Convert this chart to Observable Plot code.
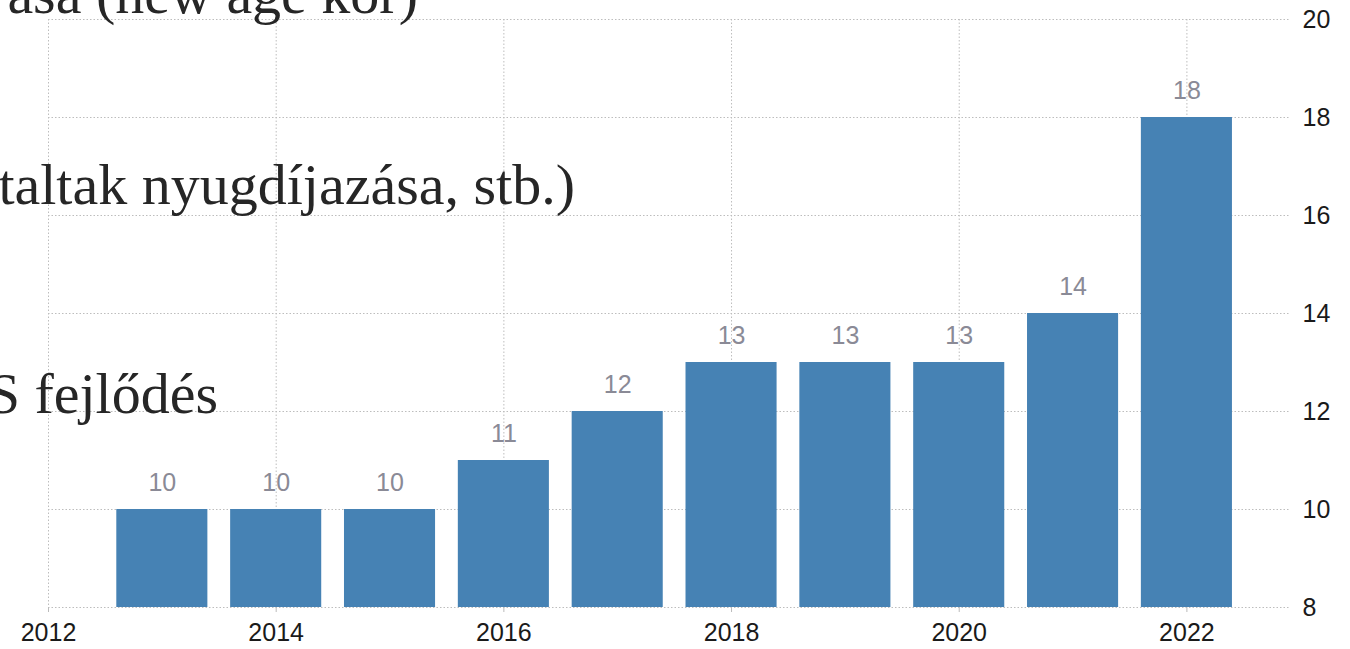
<!DOCTYPE html>
<html><head><meta charset="utf-8">
<script src="https://cdn.jsdelivr.net/npm/d3@7"></script>
<script src="https://cdn.jsdelivr.net/npm/@observablehq/plot@0.6"></script>
<style>body{margin:0;background:#fff;overflow:hidden}</style>
</head><body><div id="chart"></div>
<script>
const years = [2013, 2014, 2015, 2016, 2017, 2018, 2019, 2020, 2021, 2022];
const values = [10, 10, 10, 11, 12, 13, 13, 13, 14, 18];
const xTicks = [2012, 2014, 2016, 2018, 2020, 2022];
const yTicks = [8, 10, 12, 14, 16, 18, 20];
const overlayLines = ["ása (new age kor)", "taltak nyugdíjazása, stb.)", "S fejlődés"];

const data = years.map((year, i) => ({year, value: values[i]}));

const chart = Plot.plot({
  width: 1350, height: 649,
  marginLeft: 48, marginRight: 60, marginTop: 19, marginBottom: 42,
  style: {fontFamily: "'Liberation Sans', Arial, sans-serif", fontSize: "25px", color: "#1a1a1a", background: "#fff", overflow: "visible"},
  x: {domain: [2012, 2022.91], label: null},
  y: {domain: [8, 20], label: null},
  marks: [
    Plot.gridY(yTicks, {stroke: "#bdbdbd", strokeOpacity: 1, strokeDasharray: "1.5,2"}),
    Plot.gridX(xTicks, {stroke: "#bdbdbd", strokeOpacity: 1, strokeDasharray: "1.5,2"}),
    Plot.rectY(data, {x1: d => d.year - 0.4, x2: d => d.year + 0.4, y1: () => 8, y2: "value", fill: "#4682b4"}),
    Plot.text(data, {x: "year", y: "value", text: d => String(d.value), lineAnchor: "bottom", dy: -19, fill: "#8a8a96", fontSize: 25}),
    Plot.axisY(yTicks, {anchor: "right", tickSize: 0, tickPadding: 12, fontSize: 25, label: null}),
    Plot.axisX(xTicks, {anchor: "bottom", tickSize: 5, tickPadding: 11, stroke: "#bbb", tickFormat: d => String(d), fontSize: 25, label: null})
  ]
});
document.getElementById("chart").appendChild(chart);

const overlayPos = [[418, 13], [575, 204], [218, 413]];
const g = d3.select(chart).append("g")
  .attr("font-family", "'Liberation Serif', 'Times New Roman', serif")
  .attr("font-size", 58)
  .attr("fill", "#262626")
  .attr("text-anchor", "end");
overlayLines.forEach((t, i) => {
  g.append("text").attr("x", overlayPos[i][0]).attr("y", overlayPos[i][1]).text(t);
});
</script>
</body></html>
